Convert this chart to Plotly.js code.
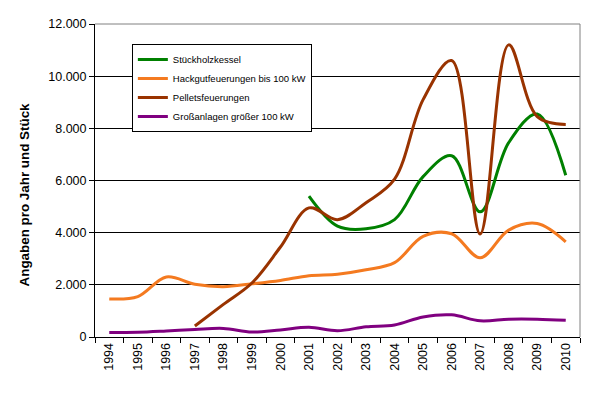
<!DOCTYPE html>
<html>
<head>
<meta charset="utf-8">
<script src="https://cdn.plot.ly/plotly-3.0.1.min.js"></script>
<style>html,body{margin:0;padding:0;background:#fff;}#chart{width:605px;height:397px;}</style>
</head>
<body>
<div id="chart"></div>
<script>
const years = ["1994","1995","1996","1997","1998","1999","2000","2001","2002","2003","2004","2005","2006","2007","2008","2009","2010"];
const stueckholz = [null,null,null,null,null,null,null,5400,4250,4150,4500,6150,6950,4800,7450,8550,6200];
const hackgut = [1460,1550,2300,2020,1930,2040,2170,2350,2410,2580,2850,3860,3960,3040,4100,4350,3650];
const pellets = [null,null,null,420,1250,2070,3450,4950,4500,5150,6050,9100,10600,3950,11200,8450,8150];
const gross = [170,180,230,290,330,190,270,370,240,390,460,770,850,620,680,680,640];
const names = ["Stückholzkessel","Hackgutfeuerungen bis 100 kW","Pelletsfeuerungen","Großanlagen größer 100 kW"];
const colors = ["#008000","#F47A20","#993300","#800080"];
const series = [stueckholz, hackgut, pellets, gross];
const yTitle = "Angaben pro Jahr und Stück";

const traces = series.map((s,i)=>({
  x: years, y: s, name: names[i], type: "scatter", mode: "lines",
  line: {color: colors[i], width: 3, shape: "spline", smoothing: 1},
  connectgaps: false
}));

const layout = {
  width: 605, height: 397,
  margin: {l: 95, r: 25, t: 24, b: 60},
  paper_bgcolor: "#fff", plot_bgcolor: "#fff",
  separators: ",.",
  font: {family: "Liberation Sans, Arial, sans-serif", size: 12.5, color: "#000"},
  showlegend: true,
  legend: {
    x: 0.076, y: 0.936, xanchor: "left", yanchor: "top",
    bgcolor: "#fff", bordercolor: "#000", borderwidth: 1,
    font: {size: 9.5, family: "Liberation Sans, Arial, sans-serif"},
    tracegroupgap: 0, itemwidth: 30
  },
  xaxis: {
    type: "category", range: [-0.5, 16.5], tickson: "boundaries",
    tickangle: -90, ticks: "outside", ticklen: 5, tickcolor: "#000",
    showline: true, linecolor: "#000", linewidth: 1,
    showgrid: false, zeroline: false, fixedrange: true,
    tickfont: {size: 12.5}
  },
  yaxis: {
    range: [0, 12000], dtick: 2000, tickformat: ",.0f",
    ticks: "outside", ticklen: 5, tickcolor: "#000",
    showline: true, linecolor: "#000", linewidth: 1,
    showgrid: true, gridcolor: "#000", gridwidth: 1, zeroline: false,
    tickfont: {size: 12.5}
  },
  annotations: [
    {text: "<b>" + yTitle + "</b>", xref: "paper", yref: "paper", x: -0.146, y: 0.456,
     xanchor: "center", yanchor: "middle", textangle: -90, showarrow: false,
     font: {size: 13.4, family: "Liberation Sans, Arial, sans-serif"}}
  ],
  shapes: [
    {type: "line", xref: "paper", yref: "paper", x0: 0, x1: 1, y0: 1, y1: 1, line: {color: "#808080", width: 1}},
    {type: "line", xref: "paper", yref: "paper", x0: 1, x1: 1, y0: 0, y1: 1, line: {color: "#808080", width: 1}}
  ]
};
Plotly.newPlot("chart", traces, layout, {staticPlot: true, displayModeBar: false});
</script>
</body>
</html>
